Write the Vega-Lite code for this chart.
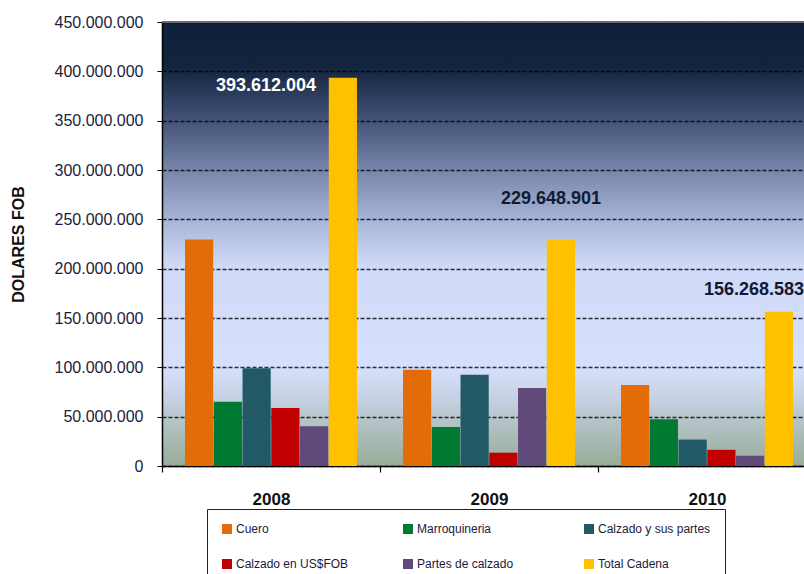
{
  "$schema": "https://vega.github.io/schema/vega-lite/v6.json",
  "autosize": "none",
  "width": 642,
  "height": 444,
  "padding": {"left": 162, "top": 22, "right": 0, "bottom": 108},
  "background": "white",
  "view": {
    "stroke": null,
    "fill": {
      "gradient": "linear",
      "x1": 0, "y1": 0, "x2": 0, "y2": 1,
      "stops": [
        {"offset": 0, "color": "#0f203c"},
        {"offset": 0.1, "color": "#13243f"},
        {"offset": 0.2, "color": "#3a4a6e"},
        {"offset": 0.33, "color": "#7584a8"},
        {"offset": 0.45, "color": "#aab6d9"},
        {"offset": 0.55, "color": "#d0daf8"},
        {"offset": 0.78, "color": "#d6e0fc"},
        {"offset": 0.85, "color": "#c6d0e2"},
        {"offset": 0.9, "color": "#b4c3c6"},
        {"offset": 1, "color": "#98ad98"}
      ]
    }
  },
  "config": {
    "font": "Liberation Sans",
    "locale": {
      "number": {"decimal": ",", "thousands": ".", "grouping": [3], "currency": ["$", ""]}
    }
  },
  "data": {
    "values": [
      {"year": "2008", "serie": "Cuero", "value": 229500000},
      {"year": "2008", "serie": "Marroquineria", "value": 65000000},
      {"year": "2008", "serie": "Calzado y sus partes", "value": 99100000},
      {"year": "2008", "serie": "Calzado en US$FOB", "value": 58800000},
      {"year": "2008", "serie": "Partes de calzado", "value": 40300000},
      {"year": "2008", "serie": "Total Cadena", "value": 393612004},
      {"year": "2009", "serie": "Cuero", "value": 97500000},
      {"year": "2009", "serie": "Marroquineria", "value": 39500000},
      {"year": "2009", "serie": "Calzado y sus partes", "value": 92600000},
      {"year": "2009", "serie": "Calzado en US$FOB", "value": 13500000},
      {"year": "2009", "serie": "Partes de calzado", "value": 79100000},
      {"year": "2009", "serie": "Total Cadena", "value": 229648901},
      {"year": "2010", "serie": "Cuero", "value": 82000000},
      {"year": "2010", "serie": "Marroquineria", "value": 47500000},
      {"year": "2010", "serie": "Calzado y sus partes", "value": 26770000},
      {"year": "2010", "serie": "Calzado en US$FOB", "value": 16400000},
      {"year": "2010", "serie": "Partes de calzado", "value": 10370000},
      {"year": "2010", "serie": "Total Cadena", "value": 156268583}
    ]
  },
  "encoding": {
    "x": {
      "field": "year", "type": "nominal",
      "scale": {"range": [0, 654], "paddingInner": 0, "paddingOuter": 0},
      "axis": {
        "title": null, "labelAngle": 0, "labelFontSize": 17, "labelFontWeight": "bold",
        "labelColor": "#111111", "labelPadding": 19, "tickBand": "extent", "tickSize": 6,
        "tickColor": "#000000", "domainColor": "#000000", "domainWidth": 1.5, "tickWidth": 1.2
      }
    },
    "y": {
      "field": "value", "type": "quantitative",
      "scale": {"domain": [0, 450000000], "nice": false},
      "axis": {
        "values": [0, 50000000, 100000000, 150000000, 200000000, 250000000, 300000000, 350000000, 400000000, 450000000],
        "format": ",d", "labelFontSize": 16, "labelColor": "#1c1c3c", "labelPadding": 14,
        "tickSize": 5, "tickColor": "#000000", "domainColor": "#000000", "domainWidth": 1.5,
        "grid": true, "gridColor": "#000000", "gridDash": [4, 2], "gridWidth": 1.6, "gridOpacity": 0.8,
        "title": "DOLARES FOB", "titleFontSize": 16, "titleFontWeight": "bold", "titleColor": "#111111",
        "titlePadding": 28
      }
    }
  },
  "layer": [
    {
      "mark": {"type": "rule", "color": "#6b6b6b", "strokeWidth": 2},
      "encoding": {"y": {"datum": 450000000}, "x": {"value": 0}, "x2": {"value": "width"}}
    },
    {
      "mark": {"type": "bar"},
      "encoding": {
        "xOffset": {
          "field": "serie", "type": "nominal",
          "scale": {"domain": ["Cuero", "Marroquineria", "Calzado y sus partes", "Calzado en US$FOB", "Partes de calzado", "Total Cadena"], "paddingInner": 0.02, "paddingOuter": 0.8}
        },
        "color": {
          "field": "serie", "type": "nominal",
          "scale": {
            "domain": ["Cuero", "Marroquineria", "Calzado y sus partes", "Calzado en US$FOB", "Partes de calzado", "Total Cadena"],
            "range": ["#e36c09", "#007a33", "#215967", "#c00000", "#604a7b", "#ffc000"]
          },
          "legend": {
            "title": null, "orient": "none", "legendX": 45, "legendY": 487,
            "columns": 3, "direction": "horizontal", "gridAlign": "all", "columnPadding": 53,
            "rowPadding": 23, "padding": 14, "strokeColor": "#222222", "fillColor": "#ffffff",
            "symbolType": "square", "symbolSize": 100, "symbolStrokeWidth": 0, "symbolOpacity": 1,
            "labelFontSize": 12, "labelColor": "#1a1a40", "labelOffset": 3
          }
        }
      }
    },
    {
      "transform": [{"filter": "datum.serie === 'Total Cadena' && datum.year === '2008'"}],
      "mark": {"type": "text", "fontSize": 18, "fontWeight": "bold", "color": "#ffffff", "dx": -5, "dy": 8, "baseline": "middle"},
      "encoding": {"text": {"field": "value", "type": "quantitative", "format": ",d"}}
    },
    {
      "transform": [{"filter": "datum.serie === 'Total Cadena' && datum.year === '2009'"}],
      "mark": {"type": "text", "fontSize": 18, "fontWeight": "bold", "color": "#111a33", "dx": 62, "dy": -40, "baseline": "middle"},
      "encoding": {"text": {"field": "value", "type": "quantitative", "format": ",d"}}
    },
    {
      "transform": [{"filter": "datum.serie === 'Total Cadena' && datum.year === '2010'"}],
      "mark": {"type": "text", "fontSize": 18, "fontWeight": "bold", "color": "#111a33", "dx": 47, "dy": -22, "baseline": "middle"},
      "encoding": {"text": {"field": "value", "type": "quantitative", "format": ",d"}}
    }
  ]
}
